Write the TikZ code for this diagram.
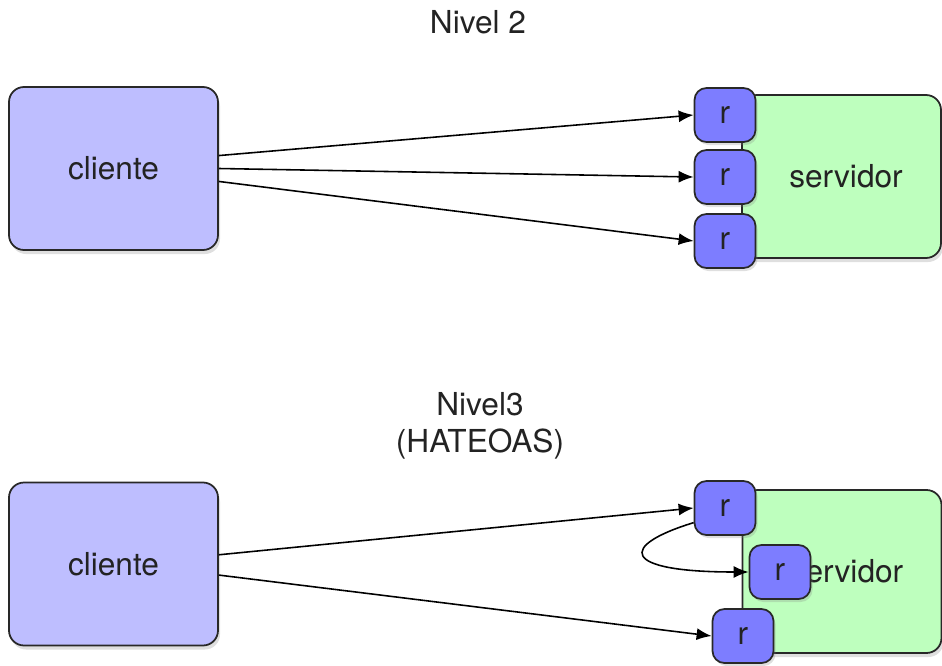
\documentclass[tikz,border=0pt]{standalone}
\usepackage{fontspec}
\setmainfont{TeX Gyre Heros}
\usepackage{xcolor}
\usepackage{tikz}
\usetikzlibrary{calc}
\usetikzlibrary{arrows.meta}
\usetikzlibrary{shadows}
\definecolor{clientfill}{RGB}{190,190,255}
\definecolor{servfill}{RGB}{190,255,190}
\definecolor{resfill}{RGB}{125,125,255}
\definecolor{edgegray}{RGB}{40,40,40}
\definecolor{textgray}{RGB}{35,35,35}
\tikzstyle{clientnode}=[textgray, draw=edgegray, line width=1pt, shape=rectangle, rounded corners=3mm, fill=clientfill, minimum width=4.18cm, minimum height=3.26cm, font=\fontsize{18}{19}\selectfont, drop shadow={shadow xshift=0.4mm, shadow yshift=-0.8mm, opacity=0.25}]
\tikzstyle{servnode}=[textgray, draw=edgegray, line width=1pt, shape=rectangle, rounded corners=3mm, fill=servfill, minimum width=3.98cm, minimum height=3.26cm, font=\fontsize{18}{19}\selectfont, drop shadow={shadow xshift=0.4mm, shadow yshift=-0.8mm, opacity=0.25}]
\tikzstyle{resnode}=[textgray, draw=edgegray, line width=1pt, shape=rectangle, rounded corners=2.4mm, fill=resfill, minimum width=1.22cm, minimum height=1.08cm, inner sep=0pt, font=\fontsize{18}{19}\selectfont, drop shadow={shadow xshift=0.4mm, shadow yshift=-0.6mm, opacity=0.25}]
\tikzstyle{titlenode}=[textgray, shape=rectangle, inner sep=0pt, align=center, font=\fontsize{18}{21}\selectfont]

\begin{document}
\begin{tikzpicture}
\useasboundingbox (0,0) rectangle (18.84,-13.3);

% Nivel 2
\node [titlenode] (title2) at (9.56,-0.44) {Nivel 2};
\node [clientnode] (client2) at (2.27,-3.37) {cliente};
\node [servnode] (serv2) at (16.83,-3.53) {\hspace*{0.18cm}servidor};
\node [resnode] (res2a) at (14.5,-2.3) {r};
\node [resnode] (res2b) at (14.5,-3.54) {r};
\node [resnode] (res2c) at (14.5,-4.82) {r};

\draw[-{Latex[length=0.3cm, width=0.24cm]}, line width=0.9pt, color=black] (client2.7) -- (res2a.west);
\draw[-{Latex[length=0.3cm, width=0.24cm]}, line width=0.9pt, color=black] (client2.east) -- (res2b.west);
\draw[-{Latex[length=0.3cm, width=0.24cm]}, line width=0.9pt, color=black] (client2.-7) -- (res2c.west);

% Nivel 3
\node [titlenode] (title3) at (9.6,-8.52) {Nivel3\\(HATEOAS)};
\node [clientnode] (client3) at (2.27,-11.28) {cliente};
\node [servnode] (serv3) at (16.84,-11.43) {\hspace*{0.18cm}servidor};
\node [resnode] (res3a) at (14.5,-10.16) {r};
\node [resnode] (res3b) at (15.6,-11.44) {r};
\node [resnode] (res3c) at (14.86,-12.72) {r};

\draw[-{Latex[length=0.3cm, width=0.24cm]}, line width=0.9pt, color=black] (client3.5) -- (res3a.west);
\draw[-{Latex[length=0.3cm, width=0.24cm]}, line width=0.9pt, color=black] (client3.-6) -- (res3c.west);
\draw[-{Latex[length=0.3cm, width=0.24cm]}, line width=0.9pt, color=black] (res3a.-155) .. controls +(-1.5,-0.46) and +(-2.58,0) .. (res3b.west);
\end{tikzpicture}
\end{document}
